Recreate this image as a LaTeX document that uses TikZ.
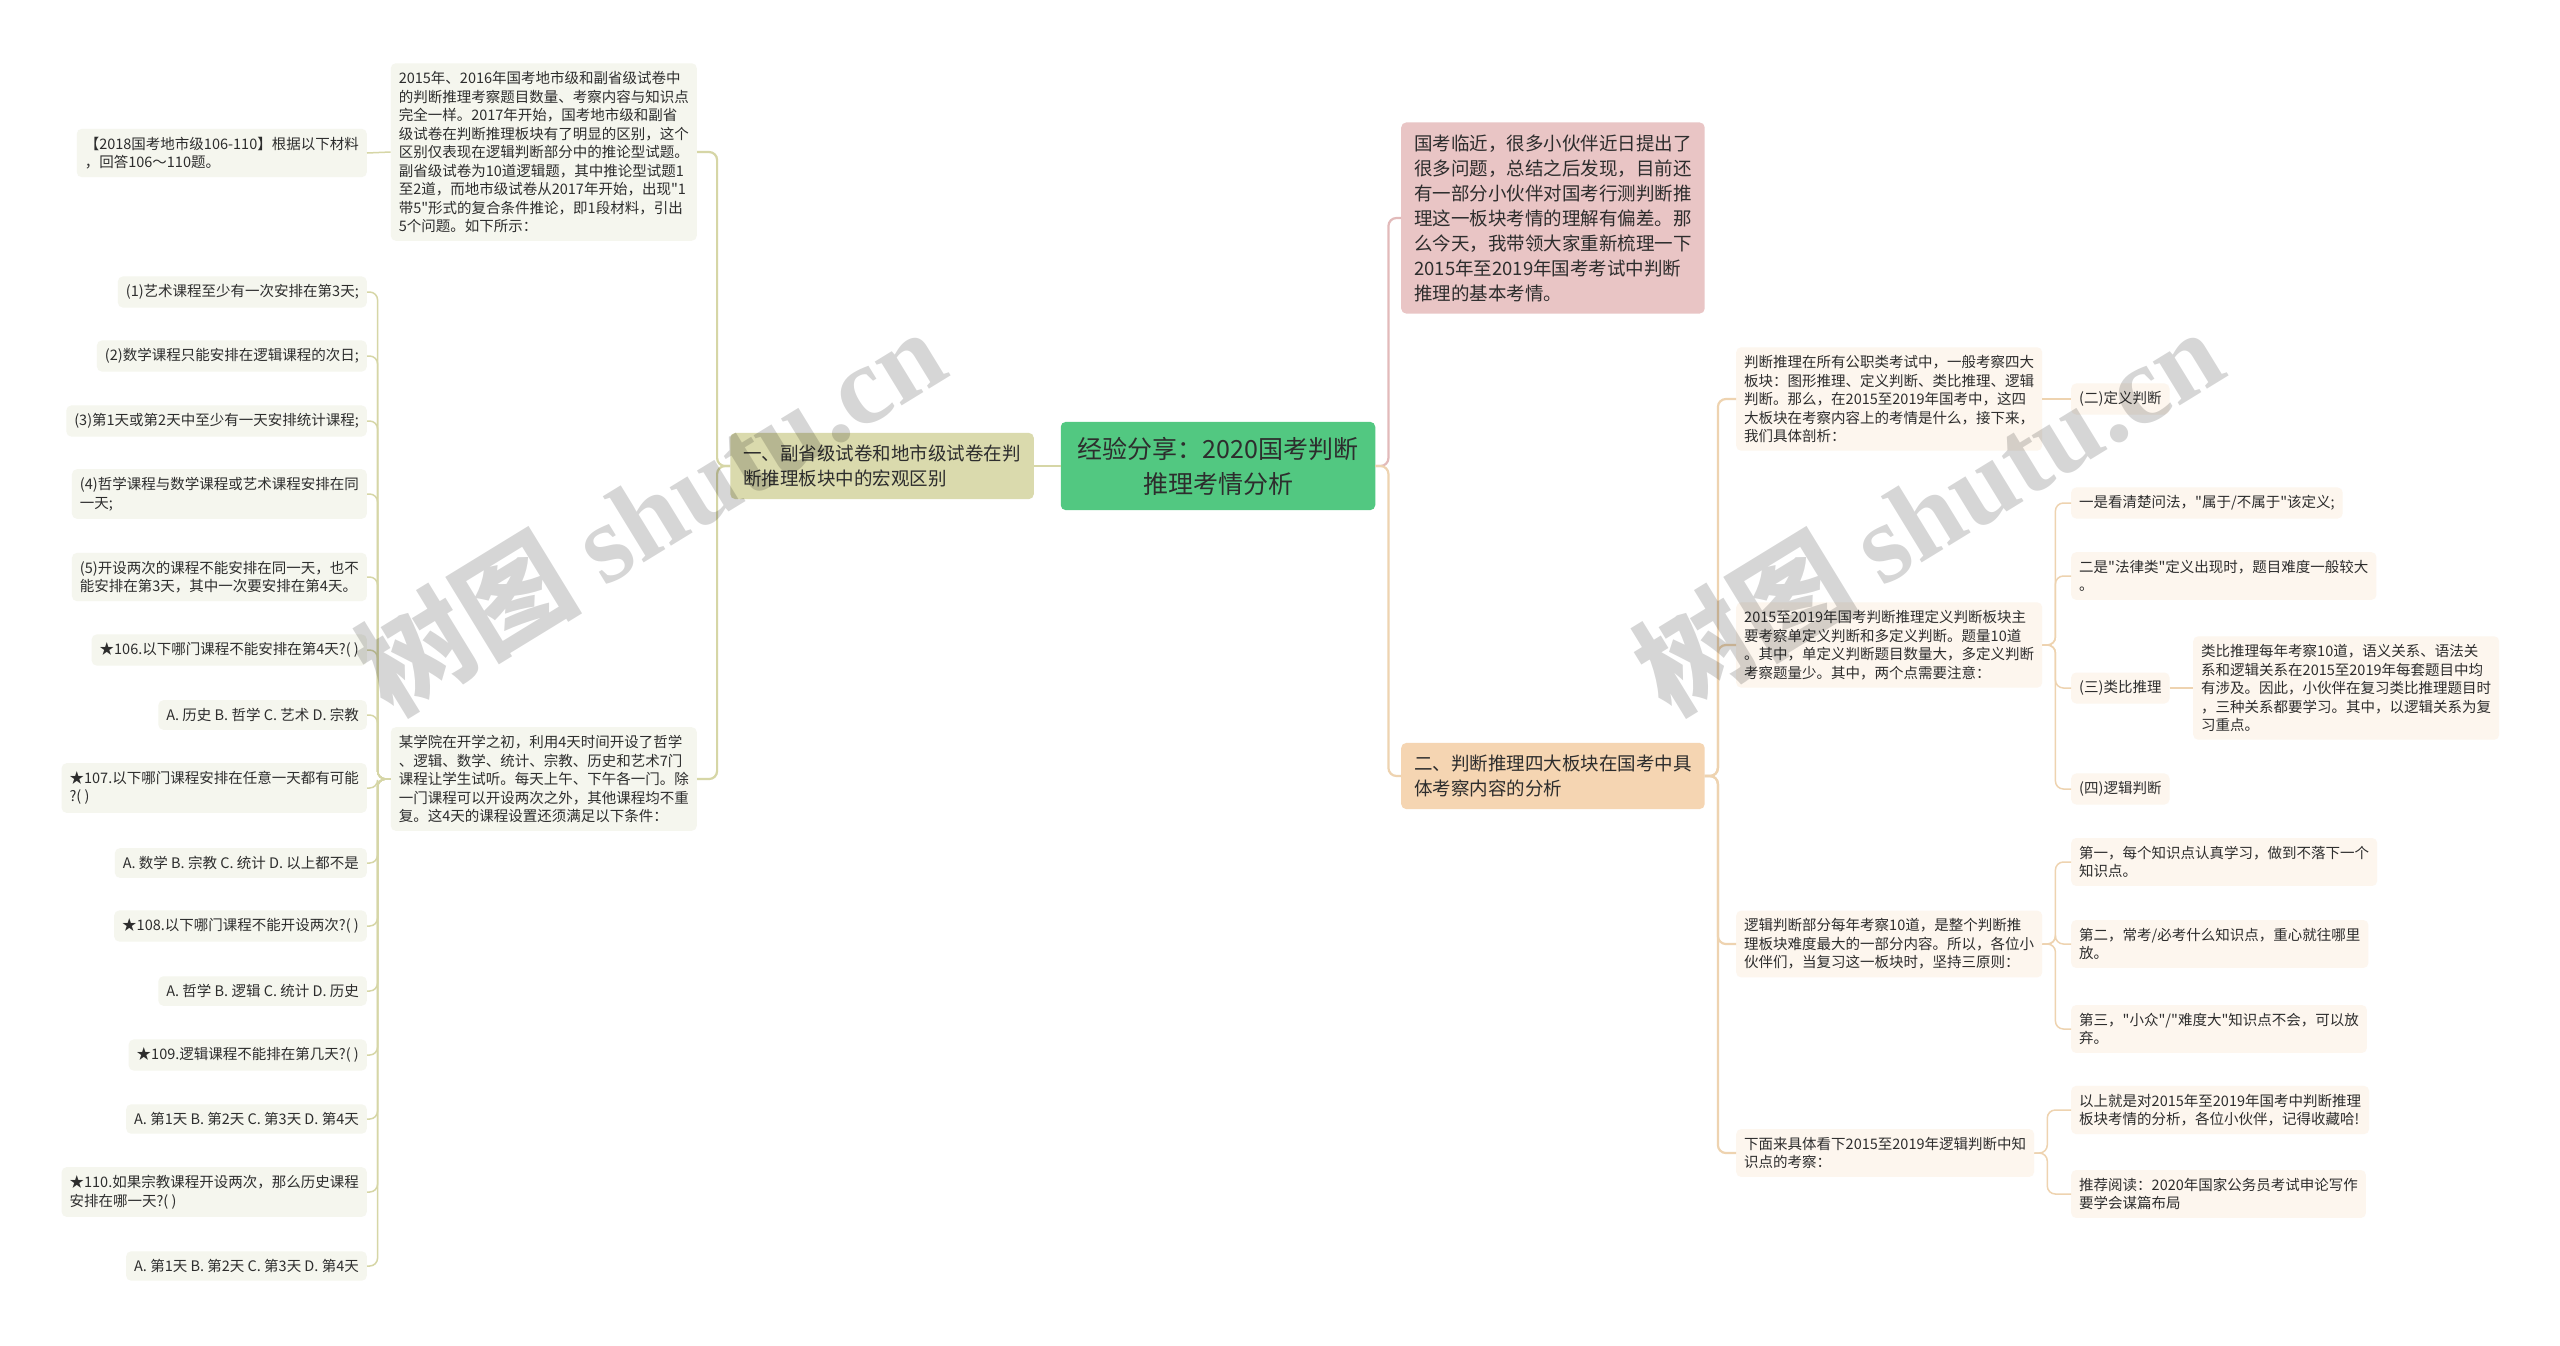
\documentclass[tikz,border=0pt]{standalone}
\usepackage{fontspec}
\setmainfont{Noto Sans CJK SC}[Ligatures=TeXOff]
\newfontfamily\wmfont{Liberation Serif}
\usepackage{tikz}
\usetikzlibrary{positioning}
\definecolor{rootgreen}{RGB}{82,200,129}
\definecolor{khaki}{RGB}{218,218,173}
\definecolor{rose}{RGB}{233,197,197}
\definecolor{tanfill}{RGB}{245,213,178}
\definecolor{leafgreen}{RGB}{245,246,238}
\definecolor{leafpeach}{RGB}{253,246,238}
\definecolor{edgekhaki}{RGB}{214,214,166}
\definecolor{edgetan}{RGB}{238,211,176}
\definecolor{edgerose}{RGB}{226,186,186}
\definecolor{ink}{RGB}{45,45,45}
\tikzstyle{root} = [rectangle, fill=rootgreen, rounded corners=5pt, align=center, text=ink, inner xsep=17pt, inner ysep=15pt, font=\fontsize{25}{35}\selectfont]
\tikzstyle{branchL} = [rectangle, fill=khaki, rounded corners=5pt, align=left, text=ink, inner xsep=13pt, inner ysep=12pt, font=\fontsize{18.5}{25}\selectfont]
\tikzstyle{branchP} = [branchL, fill=rose]
\tikzstyle{branchR} = [branchL, fill=tanfill]
\tikzstyle{leafL} = [rectangle, fill=leafgreen, rounded corners=5pt, align=left, text=ink, inner xsep=8pt, inner ysep=8pt, font=\fontsize{14.5}{18.5}\selectfont]
\tikzstyle{leafR} = [leafL, fill=leafpeach]
\tikzstyle{lineL} = [draw=edgekhaki, line width=2.2pt, rounded corners=8pt]
\tikzstyle{lineP} = [draw=edgerose, line width=2.2pt, rounded corners=8pt]
\tikzstyle{lineR} = [draw=edgetan, line width=2.2pt, rounded corners=8pt]
\tikzstyle{thinL} = [draw=edgekhaki, line width=1.5pt, rounded corners=8pt]
\tikzstyle{thinR} = [draw=edgetan, line width=1.5pt, rounded corners=8pt]
\tikzstyle{wm} = [text=black, text opacity=0.16, rotate=31.5, font=\fontsize{112}{112}\selectfont\bfseries]
\begin{document}
\begin{tikzpicture}[x=1pt, y=-1pt]
			\fill [white] (0,0) rectangle (2560,1345);
			\useasboundingbox (0,0) rectangle (2560,1345);
			% Place nodes
			\node [root] (root) at (1218,466) {经验分享：2020国考判断\\推理考情分析};
			\node [branchL, anchor=east] (macro) at (1034,466) {一、副省级试卷和地市级试卷在判\\断推理板块中的宏观区别};
			\node [branchP, anchor=west] (intro) at (1401,218) {国考临近，很多小伙伴近日提出了\\很多问题，总结之后发现，目前还\\有一部分小伙伴对国考行测判断推\\理这一板块考情的理解有偏差。那\\么今天，我带领大家重新梳理一下\\2015年至2019年国考考试中判断\\推理的基本考情。};
			\node [branchR, anchor=west] (blocks) at (1401,776) {二、判断推理四大板块在国考中具\\体考察内容的分析};
			
			\node [leafL, anchor=east] (diff) at (697,152) {2015年、2016年国考地市级和副省级试卷中\\的判断推理考察题目数量、考察内容与知识点\\完全一样。2017年开始，国考地市级和副省\\级试卷在判断推理板块有了明显的区别，这个\\区别仅表现在逻辑判断部分中的推论型试题。\\副省级试卷为10道逻辑题，其中推论型试题1\\至2道，而地市级试卷从2017年开始，出现"1\\带5"形式的复合条件推论，即1段材料，引出\\5个问题。如下所示：};
			\node [leafL, anchor=east] (exam) at (367,153) {【2018国考地市级106-110】根据以下材料\\，回答106～110题。};
			\node [leafL, anchor=east] (school) at (697,779) {某学院在开学之初，利用4天时间开设了哲学\\、逻辑、数学、统计、宗教、历史和艺术7门\\课程让学生试听。每天上午、下午各一门。除\\一门课程可以开设两次之外，其他课程均不重\\复。这4天的课程设置还须满足以下条件：};
			\node [leafL, anchor=east] (cond1) at (367,292) {(1)艺术课程至少有一次安排在第3天;};
			\node [leafL, anchor=east] (cond2) at (367,356) {(2)数学课程只能安排在逻辑课程的次日;};
			\node [leafL, anchor=east] (cond3) at (367,421) {(3)第1天或第2天中至少有一天安排统计课程;};
			\node [leafL, anchor=east] (cond4) at (367,494) {(4)哲学课程与数学课程或艺术课程安排在同\\一天;};
			\node [leafL, anchor=east] (cond5) at (367,577) {(5)开设两次的课程不能安排在同一天，也不\\能安排在第3天，其中一次要安排在第4天。};
			\node [leafL, anchor=east] (q106) at (367,650) {★106.以下哪门课程不能安排在第4天?( )};
			\node [leafL, anchor=east] (a106) at (367,715) {A. 历史 B. 哲学 C. 艺术 D. 宗教};
			\node [leafL, anchor=east] (q107) at (367,788) {★107.以下哪门课程安排在任意一天都有可能\\?( )};
			\node [leafL, anchor=east] (a107) at (367,863) {A. 数学 B. 宗教 C. 统计 D. 以上都不是};
			\node [leafL, anchor=east] (q108) at (367,926) {★108.以下哪门课程不能开设两次?( )};
			\node [leafL, anchor=east] (a108) at (367,991) {A. 哲学 B. 逻辑 C. 统计 D. 历史};
			\node [leafL, anchor=east] (q109) at (367,1055) {★109.逻辑课程不能排在第几天?( )};
			\node [leafL, anchor=east] (a109) at (367,1119) {A. 第1天 B. 第2天 C. 第3天 D. 第4天};
			\node [leafL, anchor=east] (q110) at (367,1192) {★110.如果宗教课程开设两次，那么历史课程\\安排在哪一天?( )};
			\node [leafL, anchor=east] (a110) at (367,1266) {A. 第1天 B. 第2天 C. 第3天 D. 第4天};
			
			\node [leafR, anchor=west] (overview) at (1736,399) {判断推理在所有公职类考试中，一般考察四大\\板块：图形推理、定义判断、类比推理、逻辑\\判断。那么，在2015至2019年国考中，这四\\大板块在考察内容上的考情是什么，接下来，\\我们具体剖析：};
			\node [leafR, anchor=west] (defhead) at (2071,399) {(二)定义判断};
			\node [leafR, anchor=west] (define) at (1736,645) {2015至2019年国考判断推理定义判断板块主\\要考察单定义判断和多定义判断。题量10道\\。其中，单定义判断题目数量大，多定义判断\\考察题量少。其中，两个点需要注意：};
			\node [leafR, anchor=west] (tip1) at (2071,503) {一是看清楚问法，"属于/不属于"该定义;};
			\node [leafR, anchor=west] (tip2) at (2071,576) {二是"法律类"定义出现时，题目难度一般较大\\。};
			\node [leafR, anchor=west] (analhead) at (2071,688) {(三)类比推理};
			\node [leafR, anchor=west] (analtext) at (2193,688) {类比推理每年考察10道，语义关系、语法关\\系和逻辑关系在2015至2019年每套题目中均\\有涉及。因此，小伙伴在复习类比推理题目时\\，三种关系都要学习。其中，以逻辑关系为复\\习重点。};
			\node [leafR, anchor=west] (loghead) at (2071,789) {(四)逻辑判断};
			\node [leafR, anchor=west] (logic) at (1736,944) {逻辑判断部分每年考察10道，是整个判断推\\理板块难度最大的一部分内容。所以，各位小\\伙伴们，当复习这一板块时，坚持三原则：};
			\node [leafR, anchor=west] (rule1) at (2071,862) {第一，每个知识点认真学习，做到不落下一个\\知识点。};
			\node [leafR, anchor=west] (rule2) at (2071,944) {第二，常考/必考什么知识点，重心就往哪里\\放。};
			\node [leafR, anchor=west] (rule3) at (2071,1029) {第三，"小众"/"难度大"知识点不会，可以放\\弃。};
			\node [leafR, anchor=west] (points) at (1736,1153) {下面来具体看下2015至2019年逻辑判断中知\\识点的考察：};
			\node [leafR, anchor=west] (ending) at (2071,1110) {以上就是对2015年至2019年国考中判断推理\\板块考情的分析，各位小伙伴，记得收藏哈!};
			\node [leafR, anchor=west] (reading) at (2071,1194) {推荐阅读：2020年国家公务员考试申论写作\\要学会谋篇布局};
			
			% Draw edges
			\path [lineL] (root.west) -- (macro.east);
			\path [lineP] (root.east) -- ++(13,0) |- (intro.west);
			\path [lineR] (root.east) -- ++(13,0) |- (blocks.west);
			\path [lineL] (macro.west) -- ++(-13,0) |- (diff.east);
			\path [lineL] (macro.west) -- ++(-13,0) |- (school.east);
			\path [thinL] (diff.west) -- (exam.east);
			\path [thinL] (school.west) -- ++(-13,0) |- (cond1.east);
			\path [thinL] (school.west) -- ++(-13,0) |- (cond2.east);
			\path [thinL] (school.west) -- ++(-13,0) |- (cond3.east);
			\path [thinL] (school.west) -- ++(-13,0) |- (cond4.east);
			\path [thinL] (school.west) -- ++(-13,0) |- (cond5.east);
			\path [thinL] (school.west) -- ++(-13,0) |- (q106.east);
			\path [thinL] (school.west) -- ++(-13,0) |- (a106.east);
			\path [thinL] (school.west) -- ++(-13,0) |- (q107.east);
			\path [thinL] (school.west) -- ++(-13,0) |- (a107.east);
			\path [thinL] (school.west) -- ++(-13,0) |- (q108.east);
			\path [thinL] (school.west) -- ++(-13,0) |- (a108.east);
			\path [thinL] (school.west) -- ++(-13,0) |- (q109.east);
			\path [thinL] (school.west) -- ++(-13,0) |- (a109.east);
			\path [thinL] (school.west) -- ++(-13,0) |- (q110.east);
			\path [thinL] (school.west) -- ++(-13,0) |- (a110.east);
			\path [lineR] (blocks.east) -- ++(13,0) |- (overview.west);
			\path [lineR] (blocks.east) -- ++(13,0) |- (define.west);
			\path [lineR] (blocks.east) -- ++(13,0) |- (logic.west);
			\path [lineR] (blocks.east) -- ++(13,0) |- (points.west);
			\path [thinR] (overview.east) -- (defhead.west);
			\path [thinR] (define.east) -- ++(13,0) |- (tip1.west);
			\path [thinR] (define.east) -- ++(13,0) |- (tip2.west);
			\path [thinR] (define.east) -- ++(13,0) |- (analhead.west);
			\path [thinR] (define.east) -- ++(13,0) |- (loghead.west);
			\path [thinR] (analhead.east) -- (analtext.west);
			\path [thinR] (logic.east) -- ++(13,0) |- (rule1.west);
			\path [thinR] (logic.east) -- ++(13,0) |- (rule2.west);
			\path [thinR] (logic.east) -- ++(13,0) |- (rule3.west);
			\path [thinR] (points.east) -- ++(13,0) |- (ending.west);
			\path [thinR] (points.east) -- ++(13,0) |- (reading.west);
			
			% Watermark
			\node [wm] (mark1) at (650,510) {树图 {\wmfont shutu.cn}};
			\node [wm] (mark2) at (1928,510) {树图 {\wmfont shutu.cn}};
		\end{tikzpicture}
\end{document}
